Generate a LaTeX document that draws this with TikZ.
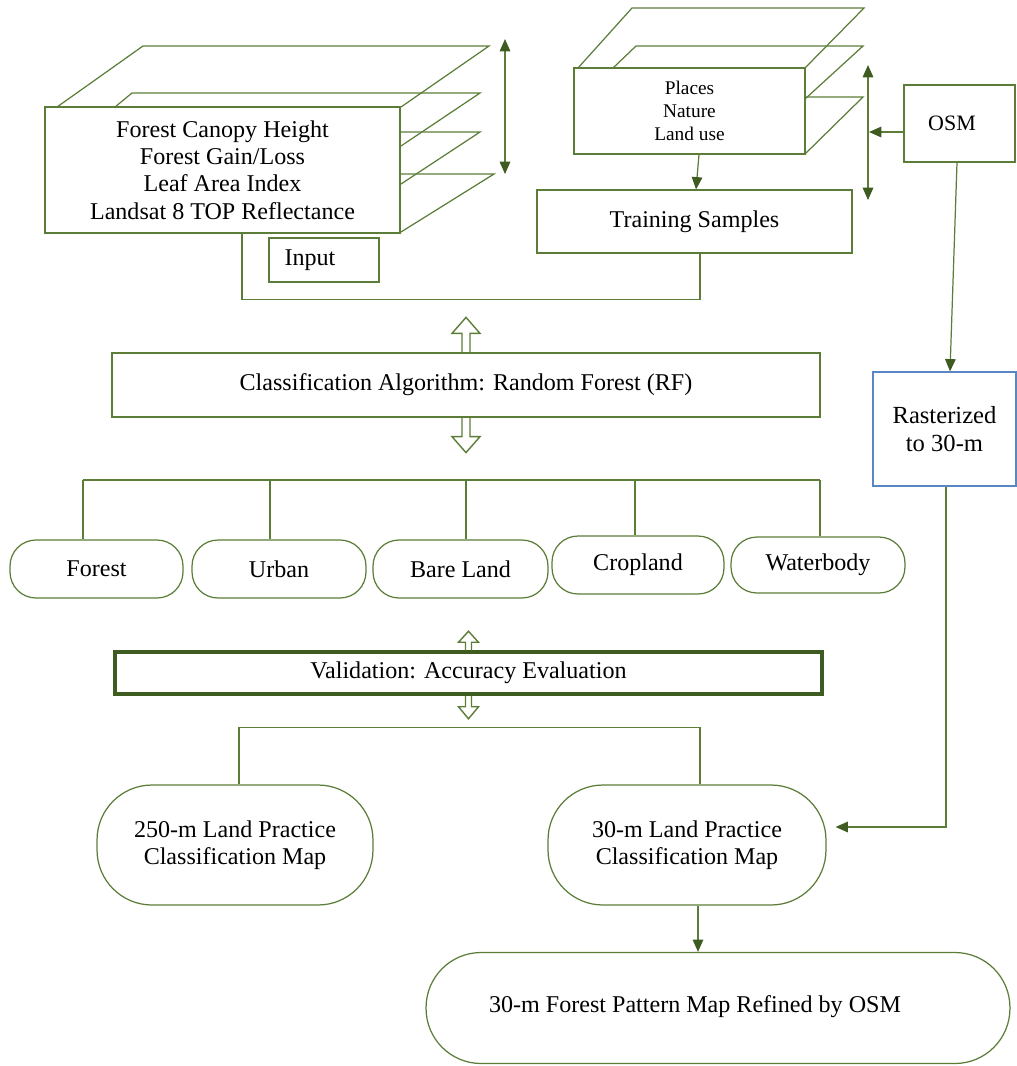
\documentclass[tikz,border=0pt]{standalone}
\usepackage{fontspec}
\setmainfont{Liberation Serif}
\usetikzlibrary{arrows.meta,calc}
\definecolor{lineg}{RGB}{92,125,56}
\definecolor{tipg}{RGB}{62,92,32}
\definecolor{rastb}{RGB}{90,135,195}
\begin{document}
\begin{tikzpicture}[x=0.02cm,y=-0.02cm,
  line/.style={draw=lineg,line width=0.7pt},
  arr/.style={line,-{Triangle[length=7pt,width=6pt,color=tipg]}},
  dbl/.style={line,{Triangle[length=7pt,width=6pt,color=tipg]}-{Triangle[length=7pt,width=6pt,color=tipg]}},
  box/.style={draw=lineg,line width=0.7pt,fill=white,rectangle,inner sep=0pt,align=center,font=\fontsize{13.7}{15.5}\selectfont},
  pill/.style={box,rounded corners=0.52cm},
  bigpill/.style={box,rounded corners=1.1cm},
  hollow/.style={draw=lineg,line width=0.8pt}]
  \useasboundingbox (0,0) rectangle (1017,1066);

  \draw[line] (57,107) -- (143,46) -- (489,46) -- (401,107);
  \draw[line] (115,107) -- (132,93) -- (480,93) -- (401,146);
  \draw[line] (401,132) -- (480,132) -- (401,184);
  \draw[line] (401,174) -- (494,174) -- (401,232);
  \node[box,minimum width=7.1cm,minimum height=2.52cm] (inputs) at (222.5,170) {Forest Canopy Height\\Forest Gain/Loss\\Leaf Area Index\\Landsat 8 TOP Reflectance};
  \node[box,minimum width=2.2cm,minimum height=0.88cm] (input) at (324,260) {\hspace*{-0.56cm}Input};

  \draw[line] (578,68) -- (632,8) -- (864,8) -- (805,68);
  \draw[line] (613,68) -- (636,46) -- (863,46) -- (805,99);
  \draw[line] (805,97) -- (863,97) -- (805,154);
  \node[box,minimum width=4.62cm,minimum height=1.72cm,font=\fontsize{11}{13}\selectfont] (osmlayers) at (689.5,111) {Places\\Nature\\Land use};
  \node[box,minimum width=6.3cm,minimum height=1.26cm] (training) at (694.5,221.5) {Training Samples};
  \node[box,minimum width=2.22cm,minimum height=1.54cm,font=\fontsize{12.5}{15}\selectfont] (osm) at (959.5,123.5) {\hspace*{-0.3cm}OSM};
  \node[box,draw=rastb,minimum width=2.86cm,minimum height=2.28cm,font=\fontsize{14}{16}\selectfont] (raster) at (944.5,429) {Rasterized\\to 30-m};

  \coordinate (ltop) at (505,39);
  \coordinate (lbot) at (505,174);
  \draw[dbl] (ltop) -- (lbot);
  \coordinate (rtop) at (868,65);
  \coordinate (rbot) at (868,200);
  \draw[dbl] (rtop) -- (rbot);
  \coordinate (osmhit) at (869,132);
  \draw[arr] (osm.west |- osmhit) -- (osmhit);
  \draw[arr] ($(osmlayers.south)+(9.5,0)$) -- ($(training.north)+(1.5,0)$);
  \draw[arr] ($(osm.south)+(-2.5,0)$) -- ($(raster.north)+(5.5,0)$);
  \draw[line] ($(inputs.south)+(19.5,0)$) -- ++(0,66) -| ($(training.south)+(5.5,0)$);

  \node[box,minimum width=14.16cm,minimum height=1.28cm] (classify) at (466,385) {Classification Algorithm: Random Forest (RF)};
  \draw[hollow] ($(classify.north)+(-4,0)$) -- ++(0,-19) -- ++(-10,0) -- ++(14,-16) -- ++(14,16) -- ++(-10,0) -- ++(0,19);
  \draw[hollow] ($(classify.south)+(-4,0)$) -- ++(0,19) -- ++(-10,0) -- ++(14,16) -- ++(14,-16) -- ++(-10,0) -- ++(0,-19);

  \node[pill,minimum width=3.46cm,minimum height=1.16cm] (forest) at (96.5,569) {Forest};
  \node[pill,minimum width=3.48cm,minimum height=1.16cm] (urban) at (279,569) {Urban};
  \node[pill,minimum width=3.5cm,minimum height=1.16cm] (bare) at (460.5,569) {Bare Land};
  \node[pill,minimum width=3.44cm,minimum height=1.16cm] (crop) at (638,565) {Cropland};
  \node[pill,minimum width=3.48cm,minimum height=1.12cm] (water) at (818,565) {Waterbody};
  \draw[line] (83,480) -- (820,480);
  \foreach \n/\x in {forest/83,urban/270,bare/466,crop/635,water/820}{
    \path (\x,480) coordinate (drop);
    \draw[line] (drop) -- (drop |- \n.north);
  }

  \node[box,draw=tipg,line width=2pt,minimum width=14.14cm,minimum height=0.84cm] (validate) at (468.5,673) {Validation: Accuracy Evaluation};
  \draw[hollow] ($(validate.north)+(-3,0)$) -- ++(0,-8) -- ++(-7,0) -- ++(10,-11) -- ++(10,11) -- ++(-7,0) -- ++(0,8);
  \draw[hollow] ($(validate.south)+(-3,0)$) -- ++(0,11) -- ++(-7,0) -- ++(10,12) -- ++(10,-12) -- ++(-7,0) -- ++(0,-11);

  \node[bigpill,minimum width=5.52cm,minimum height=2.4cm] (map250) at (235,845) {250-m Land Practice\\Classification Map};
  \node[bigpill,minimum width=5.56cm,minimum height=2.4cm] (map30) at (687,845) {30-m Land Practice\\Classification Map};
  \node[bigpill,minimum width=11.68cm,minimum height=2.22cm] (final) at (718,1008) {\raisebox{0.16cm}{\hspace*{-0.92cm}30-m Forest Pattern Map Refined by OSM}};
  \draw[line] ($(map250.north)+(4,0)$) -- ++(0,-57) -| ($(map30.north)+(13,0)$);
  \draw[arr] ($(map30.south)+(11,0)$) -- ($(final.north)+(-20,0)$);
  \draw[arr] ($(raster.south)+(1.5,0)$) |- ($(map30.east)+(9,-18)$);
\end{tikzpicture}
\end{document}
